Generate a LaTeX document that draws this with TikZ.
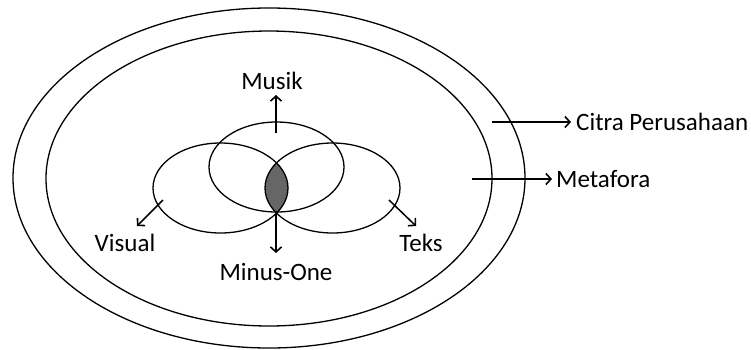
\documentclass[tikz,border=0pt]{standalone}
\usepackage{fontspec}
\setmainfont{Carlito}
\usetikzlibrary{arrows.meta,shapes.geometric}
\tikzset{
  ring/.style={draw=black, line width=1.3pt, ellipse, inner sep=0pt},
  venn/.style={draw=black, line width=1.3pt, ellipse, inner sep=0pt, minimum width=135pt, minimum height=90pt},
  lbl/.style={inner sep=0pt, font=\fontsize{25}{28}\selectfont},
  arr/.style={line width=1.5pt, -{Straight Barb[length=5pt,width=11pt,line width=1.6pt]}}
}
\begin{document}
\begin{tikzpicture}[x=1pt,y=-1pt]
\useasboundingbox (0,0) rectangle (751,349);
% lens fill
\begin{scope}
  \clip (220.5,188) ellipse [x radius=67.5, y radius=45];
  \fill[black!60] (332.5,188) ellipse [x radius=67.5, y radius=45];
\end{scope}
\node[ring, minimum width=512pt, minimum height=340pt] (outer) at (269,178) {};
\node[ring, minimum width=446pt, minimum height=295pt] (inner) at (269,178.5) {};
\node[venn] (top) at (276.5,167) {};
\node[venn] (left) at (220.5,188) {};
\node[venn] (right) at (332.5,188) {};
% labels
\node[lbl] (musik) at (272,81) {Musik};
\node[lbl] (minus) at (276,272) {Minus-One};
\node[lbl] (visual) at (125,243) {Visual};
\node[lbl] (teks) at (421,243) {Teks};
\node[lbl, anchor=west] (citra) at (576,122) {Citra Perusahaan};
\node[lbl, anchor=west] (meta) at (556,179) {Metafora};
% connector start points
\coordinate (mS) at (276,133);
\coordinate (mE) at (276,95);
\coordinate (oS) at (276,212);
\coordinate (oE) at (276,253);
\coordinate (vS) at (163,200);
\coordinate (vE) at (137,226);
\coordinate (tS) at (389,200);
\coordinate (tE) at (416,226);
\coordinate (cS) at (492,122);
\coordinate (fS) at (472,179);
% arrows
\draw[arr] (mS) -- (mE);
\draw[arr] (oS) -- (oE);
\draw[arr] (vS) -- (vE);
\draw[arr] (tS) -- (tE);
\draw[arr] (cS) -- ([xshift=-5pt]citra.west);
\draw[arr] (fS) -- ([xshift=-4pt]meta.west);
\end{tikzpicture}
\end{document}
